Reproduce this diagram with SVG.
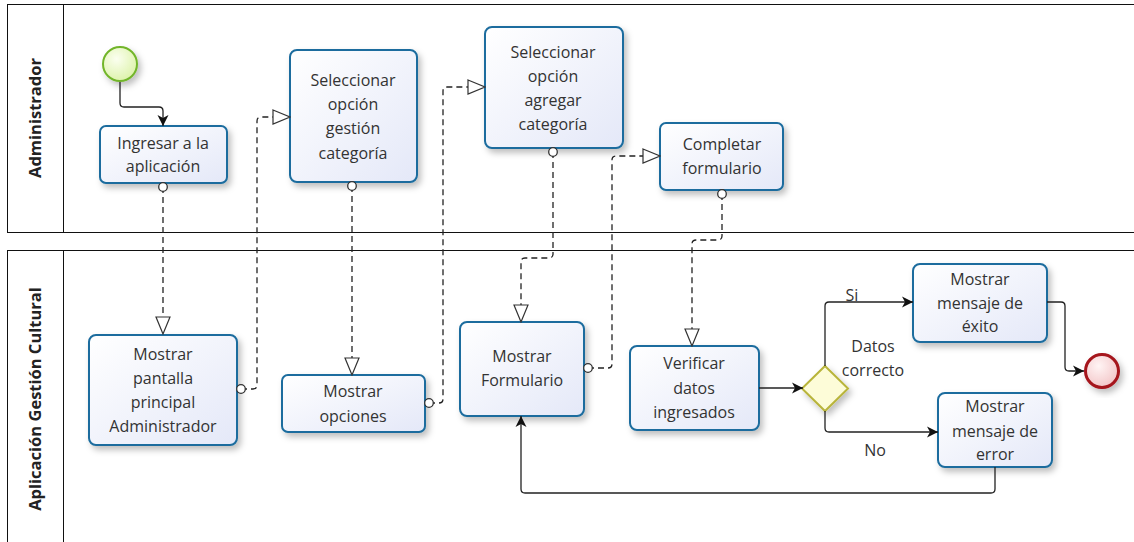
<svg xmlns="http://www.w3.org/2000/svg" width="1134" height="542" viewBox="0 0 1134 542">
  <style>
    .pool { fill: #ffffff; stroke: #111; stroke-width: 1; }
    .lane-title { font-family: "Open Sans", "Noto Sans", sans-serif; font-size: 16.5px; font-weight: bold; fill: #222; text-anchor: middle; }
    .task rect { fill: url(#taskFill); stroke: #1b6c9e; stroke-width: 2; filter: url(#shadow); }
    .task text, .label { font-family: "Open Sans", "Noto Sans", sans-serif; font-size: 16px; fill: #333; text-anchor: middle; }
    .msg { fill: none; stroke: #222; stroke-width: 1.3; stroke-dasharray: 6 4; marker-start: url(#msgStart); marker-end: url(#msgEnd); }
    .seq { fill: none; stroke: #222; stroke-width: 1.3; marker-end: url(#seqEnd); }
  </style>
  <defs>
    <linearGradient id="taskFill" x1="0" y1="0" x2="1" y2="1">
      <stop offset="0" stop-color="#ffffff"/>
      <stop offset="1" stop-color="#e4e8f8"/>
    </linearGradient>
    <radialGradient id="startFill" cx="0.4" cy="0.35" r="0.7">
      <stop offset="0" stop-color="#fbfff0"/>
      <stop offset="1" stop-color="#dcf2a8"/>
    </radialGradient>
    <radialGradient id="endFill" cx="0.4" cy="0.35" r="0.7">
      <stop offset="0" stop-color="#fff4f4"/>
      <stop offset="1" stop-color="#f2c4c6"/>
    </radialGradient>
    <filter id="shadow" x="-20%" y="-20%" width="150%" height="150%">
      <feDropShadow dx="3" dy="4" stdDeviation="3" flood-color="#000" flood-opacity="0.25"/>
    </filter>
    <marker id="msgStart" viewBox="0 0 12 12" refX="6" refY="6" markerWidth="12" markerHeight="12" markerUnits="userSpaceOnUse" orient="auto">
      <circle cx="6" cy="6" r="4.3" fill="#fff" stroke="#333" stroke-width="1.3" stroke-dasharray="none"/>
    </marker>
    <marker id="msgEnd" viewBox="-1 -1 19 16" refX="17" refY="7" markerWidth="19" markerHeight="16" markerUnits="userSpaceOnUse" orient="auto">
      <path d="M0,0 L17,7 L0,14 Z" fill="#fff" stroke="#333" stroke-width="1.2" stroke-dasharray="none"/>
    </marker>
    <marker id="seqEnd" viewBox="0 0 12 12" refX="11" refY="6" markerWidth="12" markerHeight="12" markerUnits="userSpaceOnUse" orient="auto">
      <path d="M0,0.5 L11,6 L0,11.5 L3,6 Z" fill="#111"/>
    </marker>
  </defs>

  <!-- pools -->
  <g id="pool-administrador">
    <rect class="pool" x="7.5" y="4.5" width="1140" height="228"/>
    <line x1="63.5" y1="4.5" x2="63.5" y2="232.5" stroke="#111"/>
    <text class="lane-title" transform="translate(41,118) rotate(-90)">Administrador</text>
  </g>
  <g id="pool-aplicacion">
    <rect class="pool" x="7.5" y="250.5" width="1140" height="400"/>
    <line x1="63.5" y1="250.5" x2="63.5" y2="650" stroke="#111"/>
    <text class="lane-title" transform="translate(41,399) rotate(-90)">Aplicación Gestión Cultural</text>
  </g>

  <!-- events and gateway -->
  <g id="start">
    <circle cx="120" cy="64" r="17" fill="url(#startFill)" stroke="#72b52a" stroke-width="2" filter="url(#shadow)"/>
  </g>
  <g id="end">
    <circle cx="1102" cy="371" r="16.5" fill="url(#endFill)" stroke="#a5121b" stroke-width="3" filter="url(#shadow)"/>
  </g>
  <g id="gateway-datos">
    <path d="M825,366 L848,388.5 L825,411 L802,388.5 Z" fill="#fdfcd8" stroke="#b8b43a" stroke-width="2" filter="url(#shadow)"/>
  </g>

  <!-- tasks -->
  <g id="task-ingresar" class="task">
    <rect x="100" y="126" width="127" height="57" rx="6"/>
    <text x="163" y="149">Ingresar a la</text>
    <text x="163" y="172">aplicación</text>
  </g>
  <g id="task-sel-gestion" class="task">
    <rect x="290" y="50" width="127" height="132" rx="7"/>
    <text x="353" y="86">Seleccionar</text>
    <text x="353" y="110">opción</text>
    <text x="353" y="134">gestión</text>
    <text x="353" y="159">categoría</text>
  </g>
  <g id="task-sel-agregar" class="task">
    <rect x="485" y="27" width="138" height="121" rx="7"/>
    <text x="553" y="58">Seleccionar</text>
    <text x="553" y="82">opción</text>
    <text x="553" y="106">agregar</text>
    <text x="553" y="130">categoría</text>
  </g>
  <g id="task-completar" class="task">
    <rect x="660" y="123" width="123" height="67" rx="6"/>
    <text x="722" y="150">Completar</text>
    <text x="722" y="174">formulario</text>
  </g>
  <g id="task-pantalla" class="task">
    <rect x="89" y="335" width="148" height="110" rx="7"/>
    <text x="163" y="360">Mostrar</text>
    <text x="163" y="384">pantalla</text>
    <text x="163" y="408">principal</text>
    <text x="163" y="432">Administrador</text>
  </g>
  <g id="task-opciones" class="task">
    <rect x="282" y="375" width="143" height="57" rx="6"/>
    <text x="353" y="397">Mostrar</text>
    <text x="353" y="422">opciones</text>
  </g>
  <g id="task-formulario" class="task">
    <rect x="460" y="322" width="124" height="94" rx="7"/>
    <text x="522" y="362">Mostrar</text>
    <text x="522" y="386">Formulario</text>
  </g>
  <g id="task-verificar" class="task">
    <rect x="630" y="346" width="129" height="84" rx="7"/>
    <text x="694" y="369">Verificar</text>
    <text x="694" y="394">datos</text>
    <text x="694" y="418">ingresados</text>
  </g>
  <g id="task-exito" class="task">
    <rect x="913" y="264" width="134" height="78" rx="7"/>
    <text x="980" y="285">Mostrar</text>
    <text x="980" y="309">mensaje de</text>
    <text x="980" y="332">éxito</text>
  </g>
  <g id="task-error" class="task">
    <rect x="938" y="393" width="114" height="74" rx="7"/>
    <text x="995" y="412">Mostrar</text>
    <text x="995" y="437">mensaje de</text>
    <text x="995" y="460">error</text>
  </g>

  <!-- connectors, drawn above the shapes so the flow ends stay visible -->
  <g id="connectors">
    <path class="seq" d="M120,82 V103 Q120,107 124,107 H159 Q163,107 163,111 V126"/>
    <path class="msg" d="M163,187 V334"/>
    <path class="msg" d="M241,389 H253 Q257,389 257,385 V121 Q257,117 261,117 H290"/>
    <path class="msg" d="M352,186 V375"/>
    <path class="msg" d="M429,403 H439 Q443,403 443,399 V91 Q443,87 447,87 H485"/>
    <path class="msg" d="M553,152 V254 Q553,258 549,258 H525 Q521,258 521,262 V322"/>
    <path class="msg" d="M588,368 H608 Q612,368 612,364 V160 Q612,156 616,156 H660"/>
    <path class="msg" d="M722,194 V236 Q722,240 718,240 H696 Q692,240 692,244 V346"/>
    <path class="seq" d="M759,388 H803"/>
    <path class="seq" d="M825,366 V306 Q825,302 829,302 H913"/>
    <path class="seq" d="M825,411 V428 Q825,432 829,432 H938"/>
    <path class="seq" d="M1047,302 H1061 Q1065,302 1065,306 V367 Q1065,371 1069,371 H1084"/>
    <path class="seq" d="M995,467 V489 Q995,493 991,493 H525 Q521,493 521,489 V416"/>
    <text class="label" x="852" y="301">Si</text>
    <text class="label" x="875" y="456">No</text>
    <text class="label" x="873" y="352">Datos</text>
    <text class="label" x="873" y="376">correcto</text>
  </g>
</svg>
